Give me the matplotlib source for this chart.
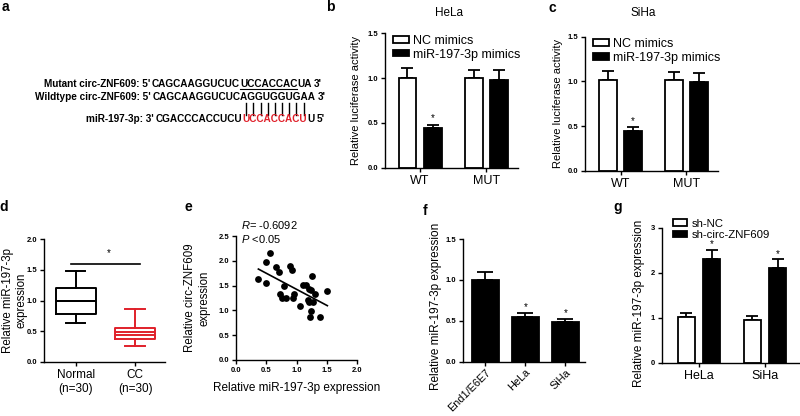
import numpy as np
import matplotlib
matplotlib.use('Agg')
import matplotlib.pyplot as plt
from matplotlib.lines import Line2D
from matplotlib.patches import Patch
from matplotlib.font_manager import FontProperties

plt.rcParams['font.family'] = ['Liberation Sans', 'DejaVu Sans']
plt.rcParams['mathtext.fontset'] = 'custom'
plt.rcParams['mathtext.rm'] = 'Liberation Sans'
plt.rcParams['mathtext.it'] = 'Liberation Sans:italic'
plt.rcParams['axes.linewidth'] = 1.0

# ---------------- data ----------------
mutant_label = "Mutant circ-ZNF609: 5'"
mutant_parts = ['CAGCAAGGUCUC', 'UCCACCAC', 'UA']
wild_label = "Wildtype circ-ZNF609: 5'"
wild_seq = 'CAGCAAGGUCUCAGGUGGUGAA'
mir_label = "miR-197-3p: 3'"
mir_parts = ['CGACCCACCUCU', 'UCCACCACU', 'U']

bc_groups = ['WT', 'MUT']
bc_legend = ['NC mimics', 'miR-197-3p mimics']
hela_nc = [1.00, 1.00]
hela_nc_err = [0.11, 0.09]
hela_mir = [0.44, 0.98]
hela_mir_err = [0.04, 0.11]
siha_nc = [1.01, 1.01]
siha_nc_err = [0.11, 0.10]
siha_mir = [0.44, 0.99]
siha_mir_err = [0.05, 0.10]
bc_sig = [True, False]
bc_yticks = [0.0, 0.5, 1.0, 1.5]

d_groups = ['Normal\n(n=30)', 'CC\n(n=30)']
d_whislo = [0.63, 0.26]
d_q1 = [0.78, 0.37]
d_med = [1.00, 0.49]
d_mean = [1.00, 0.44]
d_q3 = [1.21, 0.55]
d_whishi = [1.48, 0.86]
d_yticks = [0.0, 0.5, 1.0, 1.5, 2.0]

e_x = [0.37, 0.49, 0.50, 0.56, 0.66, 0.71, 0.72, 0.76, 0.79, 0.83, 0.90, 0.93,
       0.96, 0.95, 1.06, 1.11, 1.16, 1.21, 1.19, 1.20, 1.24, 1.25, 1.28, 1.31,
       1.24, 1.22, 1.39, 1.51]
e_y = [1.63, 1.98, 1.56, 2.15, 1.88, 1.78, 1.34, 1.25, 1.49, 1.25, 1.89, 1.81,
       1.34, 1.24, 1.09, 1.52, 1.51, 1.44, 1.21, 1.16, 1.42, 1.69, 1.16, 1.34,
       0.99, 0.86, 0.87, 1.39]
e_ticks = [0.0, 0.5, 1.0, 1.5, 2.0]
e_yticks = [0.0, 0.5, 1.0, 1.5, 2.0, 2.5]

f_cells = ['End1/E6E7', 'HeLa', 'SiHa']
f_vals = [1.00, 0.55, 0.48]
f_err = [0.10, 0.05, 0.04]
f_sig = [False, True, True]

g_groups = ['HeLa', 'SiHa']
g_legend = ['sh-NC', 'sh-circ-ZNF609']
g_nc = [1.01, 0.96]
g_nc_err = [0.09, 0.09]
g_sh = [2.30, 2.10]
g_sh_err = [0.22, 0.20]
g_sig = [True, True]
g_yticks = [0, 1, 2, 3]

RED = '#e0202a'
W, H = 800, 416
fig = plt.figure(figsize=(8, 4.16), dpi=100)


def add_ax(l, r, t, b):
    return fig.add_axes([l / W, 1 - b / H, (r - l) / W, (b - t) / H])


def style(ax, tick_fs=5.5):
    for s in ('top', 'right'):
        ax.spines[s].set_visible(False)
    ax.tick_params(direction='out', length=3, width=1.0, pad=2)
    ax.tick_params(axis='y', labelsize=tick_fs)
    for lab in ax.get_yticklabels():
        lab.set_fontweight('bold')


def ftext(x, y, s, **kw):
    return fig.text(x / W, 1 - y / H, s, **kw)


# ---------------- panel labels ----------------
for lab, x, y in [('a', 5, 7), ('b', 330, 7), ('c', 552, 8), ('d', 4, 207),
                  ('e', 188, 207), ('f', 425, 211), ('g', 618, 207)]:
    ftext(x, y, lab, fontsize=10, fontweight='bold', va='center', ha='center')

# ---------------- panel a ----------------
fig.canvas.draw()
rend = fig.canvas.get_renderer()
fp = FontProperties(family=['Liberation Sans'], weight='bold', size=7.2)


def tw(s):
    return rend.get_text_width_height_descent(s, fp, ismath=False)[0]


sp = tw('A A') - tw('AA')


def seq_line(y, label, x0, parts, colors):
    ftext(x0 - sp, y, label, fontproperties=fp, ha='right', va='center')
    acc = ''
    spans = []
    for p, c in zip(parts, colors):
        start = x0 + tw(acc) if acc else x0
        acc += p
        end = x0 + tw(acc)
        ftext(end, y, p, fontproperties=fp, ha='right', va='center', color=c)
        spans.append((start, end))
    return spans


y_mut, y_wt, y_mir = 84.3, 96.7, 119.0
mut_sp = seq_line(y_mut, mutant_label, 152, mutant_parts, ['black'] * 3)
ftext(mut_sp[-1][1] + sp, y_mut, "3'", fontproperties=fp, ha='left', va='center')
wt_sp = seq_line(y_wt, wild_label, 153, [wild_seq], ['black'])
ftext(wt_sp[-1][1] + sp, y_wt, "3'", fontproperties=fp, ha='left', va='center')
mir_sp = seq_line(y_mir, mir_label, 156, mir_parts, ['black', RED, 'black'])
ftext(mir_sp[-1][1] + sp, y_mir, "5'", fontproperties=fp, ha='left', va='center')

# underline mutated region
u0, u1 = mut_sp[1]
fig.add_artist(Line2D([u0 / W, u1 / W], [1 - (y_mut + 5) / H] * 2, color='black', lw=0.8))
# pairing bars under red seed
r0 = mir_sp[1][0]
red = mir_parts[1]
for i in range(len(red)):
    cx = r0 + (tw(red[:i + 1]) + (tw(red[:i]) if i else 0)) / 2
    fig.add_artist(Line2D([cx / W, cx / W], [1 - 103 / H, 1 - 114.5 / H], color='black', lw=1.0))


# ---------------- panels b, c ----------------
def bar_pair(ax, groups, v1, e1, v2, e2, sig, off, width, leg, leg_anchor, leg_fs):
    x = np.arange(len(groups))
    ax.bar(x - off, v1, width, color='white', edgecolor='black', lw=1.3, zorder=2)
    ax.bar(x + off, v2, width, color='black', edgecolor='black', lw=1.3, zorder=2)
    z = np.zeros(len(x))
    ax.errorbar(x - off, v1, yerr=[z, e1], fmt='none', ecolor='black', elinewidth=1.3,
                capsize=4.5, capthick=1.3, zorder=1)
    ax.errorbar(x + off, v2, yerr=[z, e2], fmt='none', ecolor='black', elinewidth=1.3,
                capsize=4.5, capthick=1.3, zorder=1)
    ax.set_xticks(x)
    ax.set_xticklabels(groups, fontsize=9)
    handles = [Patch(facecolor='white', edgecolor='black', lw=1.3),
               Patch(facecolor='black', edgecolor='black', lw=1.3)]
    ax.legend(handles, leg, loc='upper left', bbox_to_anchor=leg_anchor, frameon=False,
              fontsize=leg_fs, handlelength=1.25, handleheight=0.45, handletextpad=0.35,
              labelspacing=0.15, borderpad=0, borderaxespad=0)
    return x


axb = add_ax(385, 518, 33.3, 167.7)
xb = bar_pair(axb, bc_groups, hela_nc, hela_nc_err, hela_mir, hela_mir_err, bc_sig,
              0.19, 0.27, bc_legend, (0.06, 0.99), 9)
axb.set_xlim(-0.53, 1.48)
axb.set_ylim(0, 1.5)
axb.set_yticks(bc_yticks)
axb.set_yticklabels([f'{t:.1f}' for t in bc_yticks])
for xi, v, e, s in zip(xb, hela_mir, hela_mir_err, bc_sig):
    if s:
        axb.text(xi + 0.19, v + e + 0.07, '*', ha='center', va='center', fontsize=7)
axb.set_ylabel('Relative luciferase activity', fontsize=8, va='center')
axb.yaxis.set_label_coords(-0.215, 0.5)
ftext(449, 13.3, 'HeLa', fontsize=8.5, ha='center', va='center')
style(axb)

axc = add_ax(585, 718, 36.7, 170.7)
xc = bar_pair(axc, bc_groups, siha_nc, siha_nc_err, siha_mir, siha_mir_err, bc_sig,
              0.19, 0.27, bc_legend, (0.06, 0.99), 9)
axc.set_xlim(-0.54, 1.48)
axc.set_ylim(0, 1.5)
axc.set_yticks(bc_yticks)
axc.set_yticklabels([f'{t:.1f}' for t in bc_yticks])
for xi, v, e, s in zip(xc, siha_mir, siha_mir_err, bc_sig):
    if s:
        axc.text(xi + 0.19, v + e + 0.06, '*', ha='center', va='center', fontsize=7)
axc.set_ylabel('Relative luciferase activity', fontsize=8, va='center')
axc.yaxis.set_label_coords(-0.2, 0.5)
ftext(643, 13.3, 'SiHa', fontsize=8.5, ha='center', va='center')
style(axc)

# ---------------- panel d ----------------
axd = add_ax(44, 165, 239, 362)
stats = []
for i in range(2):
    stats.append(dict(med=d_med[i], q1=d_q1[i], q3=d_q3[i], whislo=d_whislo[i],
                      whishi=d_whishi[i], mean=d_mean[i], fliers=[], label=d_groups[i]))
art = axd.bxp(stats, positions=[0, 1], widths=0.67, capwidths=0.33, showmeans=True,
              meanline=True, showfliers=False)
cols = ['black', RED]
for i, c in enumerate(cols):
    art['boxes'][i].set(color=c, lw=1.4)
    art['medians'][i].set(color=c, lw=1.4)
    art['means'][i].set(color=c, lw=1.4, linestyle='-')
    for k in (2 * i, 2 * i + 1):
        art['whiskers'][k].set(color=c, lw=1.4)
        art['caps'][k].set(color=c, lw=1.4)
axd.set_xlim(-0.53, 1.5)
axd.set_ylim(0, 2.0)
axd.set_yticks(d_yticks)
axd.set_yticklabels([f'{t:.1f}' for t in d_yticks])
axd.set_xticks([0, 1])
axd.set_xticklabels(d_groups, fontsize=8.5, linespacing=1.25)
axd.plot([-0.07, 1.08], [1.6, 1.6], color='black', lw=1.2)
axd.text(0.55, 1.77, '*', ha='center', va='center', fontsize=7)
axd.set_ylabel('Relative miR-197-3p\nexpression', fontsize=8.3, va='center', linespacing=1.2)
axd.yaxis.set_label_coords(-0.24, 0.5)
style(axd)

# ---------------- panel e ----------------
axe = add_ax(236, 357, 236, 360)
axe.scatter(e_x, e_y, s=24, color='black', zorder=3, linewidths=0)
fit = np.polyfit(e_x, e_y, 1)
xx = np.array([min(e_x), max(e_x)])
axe.plot(xx, np.polyval(fit, xx), color='black', lw=1.2)
axe.set_xlim(0, 2.0)
axe.set_ylim(0, 2.5)
axe.set_xticks(e_ticks)
axe.set_xticklabels([f'{t:.1f}' for t in e_ticks])
axe.set_yticks(e_yticks)
axe.set_yticklabels([f'{t:.1f}' for t in e_yticks])
axe.set_xlabel('Relative miR-197-3p expression', fontsize=8.5, labelpad=6)
axe.set_ylabel('Relative circ-ZNF609\nexpression', fontsize=8.3, va='center', linespacing=1.2)
axe.yaxis.set_label_coords(-0.32, 0.5)
axe.text(0.045, 1.09, r'$\mathit{R}$= -0.6092', transform=axe.transAxes, fontsize=8,
         va='center', ha='left', clip_on=False)
axe.text(0.045, 0.975, r'$\mathit{P}$ <0.05', transform=axe.transAxes, fontsize=8,
         va='center', ha='left', clip_on=False)
style(axe)
axe.tick_params(axis='x', labelsize=5.5)
for lab in axe.get_xticklabels():
    lab.set_fontweight('bold')

# ---------------- panel f ----------------
axf = add_ax(463, 585, 239, 361.7)
xf = np.arange(len(f_cells))
axf.bar(xf, f_vals, 0.69, color='black', edgecolor='black', lw=1.3, zorder=2)
axf.errorbar(xf, f_vals, yerr=[np.zeros(len(xf)), f_err], fmt='none', ecolor='black',
             elinewidth=1.3, capsize=5.5, capthick=1.3, zorder=1)
for xi, v, e, s in zip(xf, f_vals, f_err, f_sig):
    if s:
        axf.text(xi, v + e + 0.07, '*', ha='center', va='center', fontsize=7)
axf.set_xlim(-0.56, 2.49)
axf.set_ylim(0, 1.5)
axf.set_yticks([0.0, 0.5, 1.0, 1.5])
axf.set_yticklabels(['0.0', '0.5', '1.0', '1.5'])
axf.set_xticks(xf)
axf.set_xticklabels(f_cells, fontsize=7.8, rotation=45, ha='right', rotation_mode='anchor')
axf.set_ylabel('Relative miR-197-3p expression', fontsize=8.5, va='center')
axf.yaxis.set_label_coords(-0.22, 0.45)
style(axf)
axf.tick_params(axis='x', pad=1)

# ---------------- panel g ----------------
axg = add_ax(662, 800, 228, 362.7)
xg = bar_pair(axg, g_groups, g_nc, g_nc_err, g_sh, g_sh_err, g_sig, 0.19, 0.264,
              g_legend, (0.08, 1.07), 8.2)
for xi, v, e, s in zip(xg, g_sh, g_sh_err, g_sig):
    if s:
        axg.text(xi + 0.19, v + e + 0.12, '*', ha='center', va='center', fontsize=7)
axg.set_xlim(-0.56, 1.53)
axg.set_ylim(0, 3)
axg.set_yticks(g_yticks)
axg.set_yticklabels([str(t) for t in g_yticks])
axg.set_ylabel('Relative miR-197-3p expression', fontsize=8.5, va='center')
axg.yaxis.set_label_coords(-0.165, 0.44)
style(axg)

fig.savefig('out.png', dpi=100)
